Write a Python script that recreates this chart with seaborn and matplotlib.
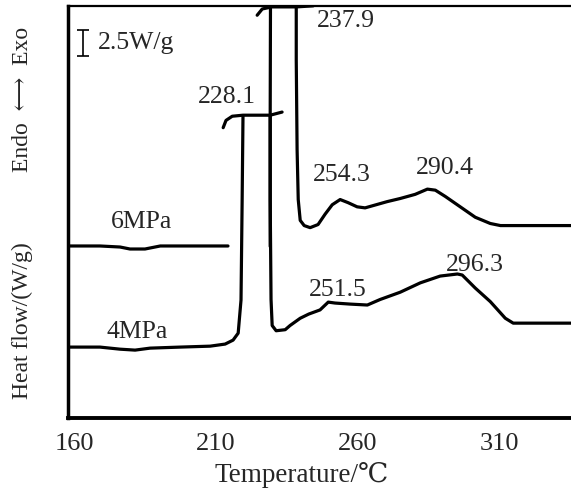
import pandas as pd
import matplotlib
matplotlib.use("Agg")
import matplotlib.pyplot as plt
import seaborn as sns

sns.set_theme(style="white")
plt.rcParams['font.family'] = ['Liberation Serif', 'DejaVu Serif', 'DejaVu Sans']

# --- data (temperature in degC, heat flow in W/g, arbitrary offset) ---
# 4 MPa curve: baseline + rise to first peak
temp_4a = [157.8, 169.1, 176.2, 181.5, 186.8, 197.4, 208.0, 213.3, 216.1, 217.9, 218.9, 219.3, 219.6]
heat_4a = [6.83, 6.83, 6.63, 6.54, 6.73, 6.83, 6.92, 7.12, 7.50, 8.17, 11.35, 20.96, 29.04]
# 4 MPa clipped peak cap
temp_4b = [212.6, 213.6, 215.8, 219.6, 229.2, 233.4]
heat_4b = [27.9, 28.6, 29.0, 29.1, 29.1, 29.4]
# 4 MPa after melting peak
temp_4c = [229.2, 229.2, 229.5, 229.9, 231.3, 234.5, 236.2, 239.8, 242.8, 246.8, 249.7,
           252.1, 257.4, 263.5, 268.0, 275.1, 282.2, 289.2, 295.3, 297.0, 301.6, 306.9,
           312.2, 315.0, 335.4]
heat_4c = [29.1, 21.0, 11.4, 8.9, 8.4, 8.5, 8.9, 9.6, 10.0, 10.4, 11.15,
           11.06, 10.96, 10.87, 11.4, 12.1, 13.0, 13.65, 13.85, 13.75, 12.5, 11.2,
           9.6, 9.13, 9.13]

# 6 MPa curve: baseline
temp_6a = [157.8, 169.1, 176.2, 179.7, 185.0, 190.4, 214.3]
heat_6a = [16.54, 16.54, 16.44, 16.25, 16.25, 16.54, 16.54]
# 6 MPa rise
temp_6b = [229.2, 229.2, 229.3]
heat_6b = [16.5, 29.0, 39.4]
# 6 MPa clipped peak cap
temp_6c = [224.6, 226.4, 229.8, 238.4, 244.4]
heat_6c = [38.7, 39.3, 39.5, 39.5, 39.6]
# 6 MPa after melting peak
temp_6d = [238.4, 238.4, 238.7, 239.1, 239.8, 241.2, 243.3, 246.1, 248.6, 251.1, 253.9,
           256.7, 259.9, 262.7, 270.5, 275.1, 280.4, 284.7, 287.5, 291.0, 296.3, 301.6,
           306.9, 310.5, 335.4]
heat_6d = [39.4, 34.4, 25.8, 21.0, 19.0, 18.5, 18.3, 18.6, 19.6, 20.5, 21.0,
           20.7, 20.3, 20.2, 20.8, 21.1, 21.5, 22.0, 21.9, 21.3, 20.3, 19.3,
           18.7, 18.5, 18.5]

peak_labels = ["228.1", "237.9", "254.3", "290.4", "251.5", "296.3"]
peak_x = [214.0, 256.0, 254.6, 290.7, 252.9, 301.3]
peak_y = [30.8, 38.1, 23.4, 24.0, 12.3, 14.7]

curve_names = ["6MPa", "4MPa"]
name_x = [183.9, 182.2]
name_y = [18.8, 8.3]

scale_bar = 2.5  # W/g

fig = plt.figure(figsize=(5.71, 4.88), dpi=100)
ax = fig.add_axes([0.119, 0.143, 0.881, 0.845])

segments = [(temp_4a, heat_4a), (temp_4b, heat_4b), (temp_4c, heat_4c),
            (temp_6a, heat_6a), (temp_6b, heat_6b), (temp_6c, heat_6c), (temp_6d, heat_6d)]
for t, h in segments:
    seg = pd.DataFrame({"T": t, "H": h})
    sns.lineplot(data=seg, x="T", y="H", sort=False, estimator=None,
                 color="black", linewidth=2.3, ax=ax)

for lab, x, y in zip(peak_labels, peak_x, peak_y):
    ax.text(x, y, lab, ha="center", va="center", fontsize=18.5)
for lab, x, y in zip(curve_names, name_x, name_y):
    ax.text(x, y, lab, ha="center", va="center", fontsize=18.5)

# scale bar
ax.errorbar(163.1, 36.0, yerr=scale_bar / 2, color="black", capsize=4, elinewidth=1.2, capthick=1.2)
ax.text(168.4, 36.0, f"{scale_bar}W/g", ha="left", va="center", fontsize=18.5)

ax.set_xlim(157.8, 335.4)
ax.set_ylim(0, 39.6)
ax.set_xticks([160, 210, 260, 310])
ax.set_yticks([])
ax.tick_params(axis="x", length=0, pad=11, labelsize=19)
ax.set_xlabel("Temperature/℃", fontsize=19.5)
ax.xaxis.set_label_coords(0.465, -0.105)
ax.set_ylabel("")

ax.spines["right"].set_visible(False)
ax.spines["left"].set_linewidth(2.5)
ax.spines["bottom"].set_linewidth(2.8)
ax.spines["top"].set_linewidth(1.6)
for s in ["left", "bottom", "top"]:
    ax.spines[s].set_color("black")

fig.text(0.04, 0.344, "Heat flow/(W/g)", rotation=90, ha="center", va="center", fontsize=17)
fig.text(0.04, 0.797, "Endo  ⟷  Exo", rotation=90, ha="center", va="center", fontsize=17)

fig.savefig("out.png", dpi=100)
